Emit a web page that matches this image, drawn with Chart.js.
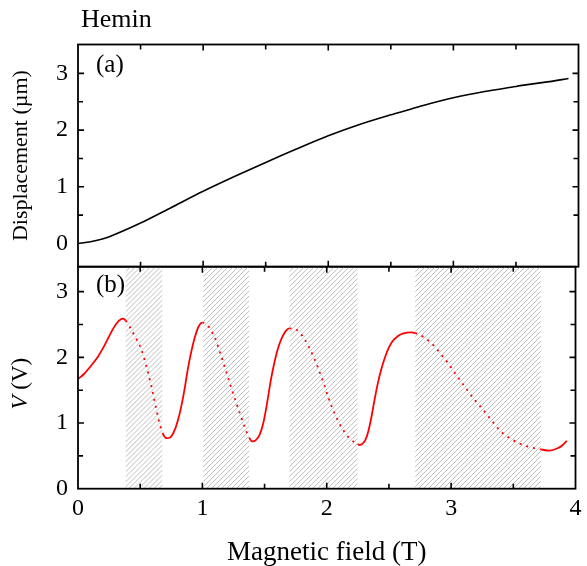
<!DOCTYPE html>
<html>
<head>
<meta charset="utf-8">
<script src="https://cdn.jsdelivr.net/npm/chart.js@4/dist/chart.umd.min.js"></script>
<style>
  html, body { margin: 0; padding: 0; background: #fff; }
  .panel { position: absolute; left: 0; top: 0; width: 587px; height: 566px; }
</style>
</head>
<body>
<div class="panel"><canvas id="chartA" width="587" height="566"></canvas></div>
<div class="panel"><canvas id="chartB" width="587" height="566"></canvas></div>
<script>
// (a) displacement vs field
const fieldA = [0, 0.1, 0.25, 0.5, 0.75, 1.0, 1.25, 1.5, 1.75, 2.0, 2.25, 2.5, 2.63, 2.65, 2.75, 3.0, 3.25, 3.5, 3.52, 3.75, 3.92];
const dispA  = [0, 0.03, 0.12, 0.36, 0.64, 0.92, 1.18, 1.43, 1.67, 1.90, 2.10, 2.27, 2.35, 2.365, 2.43, 2.57, 2.68, 2.77, 2.78, 2.85, 2.91];

// (b) voltage vs field
const fieldB = [
  0, 0.05, 0.1, 0.16, 0.21, 0.25, 0.29, 0.33, 0.36, 0.384,
  0.42, 0.46, 0.51, 0.55, 0.59, 0.62, 0.65, 0.68,
  0.71, 0.74, 0.77, 0.80, 0.83, 0.86, 0.88, 0.91, 0.94, 0.97, 1.0,
  1.04, 1.07, 1.10, 1.15, 1.19, 1.23, 1.27, 1.31, 1.35, 1.376,
  1.40, 1.43, 1.46, 1.49, 1.52, 1.55, 1.58, 1.61, 1.64, 1.67, 1.70,
  1.73, 1.776, 1.82, 1.856, 1.90, 1.936, 1.98, 2.016, 2.06, 2.096, 2.14, 2.176, 2.22, 2.248,
  2.265, 2.29, 2.31, 2.335, 2.36, 2.385, 2.41, 2.44, 2.47, 2.50, 2.53, 2.57, 2.61, 2.68, 2.712,
  2.76, 2.82, 2.87, 2.92, 2.976, 3.03, 3.08, 3.135, 3.19, 3.25, 3.30, 3.35, 3.40, 3.48, 3.56, 3.64, 3.72,
  3.79, 3.856, 3.90, 3.93
];
const voltB = [
  1.67, 1.75, 1.86, 2.01, 2.17, 2.32, 2.46, 2.56, 2.59, 2.56,
  2.45, 2.31, 2.12, 1.86, 1.56, 1.29, 1.04, 0.85,
  0.77, 0.78, 0.86, 1.02, 1.25, 1.55, 1.79, 2.08, 2.31, 2.47, 2.53,
  2.49, 2.41, 2.30, 2.03, 1.79, 1.55, 1.32, 1.10, 0.89, 0.78,
  0.72, 0.74, 0.82, 1.0, 1.30, 1.65, 1.93, 2.15, 2.30, 2.40, 2.44,
  2.44, 2.39, 2.28, 2.16, 1.98, 1.81, 1.58, 1.37, 1.16, 1.01, 0.87, 0.78, 0.71, 0.68,
  0.665, 0.69, 0.74, 0.88, 1.10, 1.36, 1.60, 1.83, 2.01, 2.15, 2.25, 2.32, 2.36, 2.38, 2.37,
  2.33, 2.25, 2.16, 2.04, 1.91, 1.76, 1.63, 1.49, 1.35, 1.22, 1.10, 0.98, 0.87, 0.76, 0.68, 0.63, 0.60,
  0.58, 0.615, 0.67, 0.73
];

// hatched field ranges in (b)
const hatchStart = [0.384, 1.008, 1.70, 2.712];
const hatchEnd   = [0.678, 1.376, 2.248, 3.72];

const xTicks = [0, 1, 2, 3, 4];
const yTicksA = [0, 1, 2, 3];
const yTicksB = [0, 1, 2, 3];

const SERIF = '"Liberation Serif", "Times New Roman", serif';
Chart.defaults.color = '#000';
Chart.defaults.font.family = SERIF;

function inHatch(v) {
  for (let i = 0; i < hatchStart.length; i++) {
    if (v > hatchStart[i] && v < hatchEnd[i]) return true;
  }
  return false;
}

// frame + inward ticks on all four sides
function framePlugin(yMinor) {
  return {
    id: 'frame',
    afterDatasetsDraw(chart) {
      const { ctx, chartArea: a, scales: { x, y } } = chart;
      ctx.save();
      ctx.strokeStyle = '#000';
      ctx.lineWidth = 1.6;
      ctx.beginPath();
      for (let v = 0.5; v < 4; v += 0.5) {
        const px = x.getPixelForValue(v);
        const len = v % 1 === 0 ? 6 : 5;
        ctx.moveTo(px, a.bottom); ctx.lineTo(px, a.bottom - len);
        ctx.moveTo(px, a.top); ctx.lineTo(px, a.top + len);
      }
      yMinor.forEach(v => {
        const py = y.getPixelForValue(v);
        const len = v % 1 === 0 ? 6 : 5;
        ctx.moveTo(a.left, py); ctx.lineTo(a.left + len, py);
        ctx.moveTo(a.right, py); ctx.lineTo(a.right - len, py);
      });
      ctx.stroke();
      ctx.lineWidth = 1.8;
      ctx.strokeRect(a.left, a.top, a.width, a.height);
      ctx.restore();
    }
  };
}

function labelPlugin(draw) {
  return { id: 'labels', afterDraw(chart) { draw(chart.ctx, chart.chartArea); } };
}

const hatchPlugin = {
  id: 'hatch',
  beforeDatasetsDraw(chart) {
    const { ctx, chartArea: a, scales: { x } } = chart;
    ctx.save();
    ctx.strokeStyle = '#bdbdbd';
    ctx.lineWidth = 1;
    hatchStart.forEach((s, i) => {
      const x1 = x.getPixelForValue(s);
      const x2 = x.getPixelForValue(hatchEnd[i]);
      ctx.save();
      ctx.beginPath();
      ctx.rect(x1, a.top, x2 - x1, a.height);
      ctx.clip();
      ctx.beginPath();
      const h = a.height;
      for (let px = x1 - h; px < x2 + 5; px += 5) {
        ctx.moveTo(px, a.bottom);
        ctx.lineTo(px + h, a.top);
      }
      ctx.stroke();
      ctx.restore();
    });
    ctx.restore();
  }
};

// ---- panel (a) ----
new Chart(document.getElementById('chartA'), {
  type: 'line',
  data: {
    datasets: [{
      data: fieldA.map((v, i) => ({ x: v, y: dispA[i] })),
      borderColor: '#000',
      borderWidth: 1.6,
      pointRadius: 0,
      tension: 0.3
    }]
  },
  options: {
    responsive: false,
    animation: false,
    layout: { padding: { left: 0, top: 44.5, right: 8.5, bottom: 566 - 266.7 } },
    plugins: { legend: { display: false }, tooltip: { enabled: false } },
    scales: {
      x: { type: 'linear', min: 0, max: 4, display: false },
      y: {
        min: -0.41, max: 3.51,
        afterBuildTicks: s => { s.ticks = yTicksA.map(v => ({ value: v })); },
        afterFit: s => { s.width = 78; },
        grid: { display: false, drawTicks: false },
        border: { display: false },
        ticks: { font: { size: 24 }, padding: 10 },
        title: {
          display: true,
          text: 'Displacement (µm)',
          font: { size: 22, lineHeight: 1 },
          padding: { top: 10, bottom: 0 }
        }
      }
    }
  },
  plugins: [framePlugin([0.5, 1, 1.5, 2, 2.5, 3]), labelPlugin((ctx, a) => {
    ctx.save();
    ctx.fillStyle = '#000';
    ctx.textBaseline = 'alphabetic';
    ctx.font = '26px ' + SERIF;
    ctx.fillText('Hemin', 81, 26.5);
    ctx.font = '25px ' + SERIF;
    ctx.fillText('(a)', 96, 72);
    ctx.restore();
  })]
});

// ---- panel (b) ----
new Chart(document.getElementById('chartB'), {
  type: 'line',
  data: {
    datasets: [{
      data: fieldB.map((v, i) => ({ x: v, y: voltB[i] })),
      borderColor: '#ff0000',
      borderWidth: 1.8,
      pointRadius: 0,
      cubicInterpolationMode: 'monotone',
      segment: {
        borderDash: c => inHatch((c.p0.parsed.x + c.p1.parsed.x) / 2) ? [2, 5] : undefined
      }
    }]
  },
  options: {
    responsive: false,
    animation: false,
    layout: { padding: { left: 0, top: 266.7, right: 8.5, bottom: 0 } },
    plugins: { legend: { display: false }, tooltip: { enabled: false } },
    scales: {
      x: {
        type: 'linear', min: 0, max: 4,
        afterBuildTicks: s => { s.ticks = xTicks.map(v => ({ value: v })); },
        afterFit: s => { s.height = 566 - 488.7; },
        grid: { display: false, drawTicks: false },
        border: { display: false },
        ticks: { font: { size: 24 }, padding: 5.5 },
        title: {
          display: true,
          text: 'Magnetic field (T)',
          font: { size: 27, lineHeight: 1 },
          padding: { top: 0, bottom: 0 }
        }
      },
      y: {
        min: 0, max: 3.38,
        afterBuildTicks: s => { s.ticks = yTicksB.map(v => ({ value: v })); },
        afterFit: s => { s.width = 78; },
        grid: { display: false, drawTicks: false },
        border: { display: false },
        ticks: { font: { size: 24 }, padding: 10 }
      }
    }
  },
  plugins: [hatchPlugin, framePlugin([0.5, 1, 1.5, 2, 2.5, 3]), labelPlugin((ctx, a) => {
    ctx.save();
    ctx.fillStyle = '#000';
    ctx.font = '25px ' + SERIF;
    ctx.fillText('(b)', 96, 292);
    // y title with italic V
    const italic = 'italic 23px ' + SERIF, plain = '23px ' + SERIF;
    ctx.font = italic; const w1 = ctx.measureText('V').width;
    ctx.font = plain; const w2 = ctx.measureText(' (V)').width;
    ctx.translate(21, (a.top + a.bottom) / 2 + 6);
    ctx.rotate(-Math.PI / 2);
    ctx.textBaseline = 'middle';
    ctx.font = italic;
    ctx.fillText('V', -(w1 + w2) / 2, 0);
    ctx.font = plain;
    ctx.fillText(' (V)', -(w1 + w2) / 2 + w1, 0);
    ctx.restore();
  })]
});
</script>
</body>
</html>
